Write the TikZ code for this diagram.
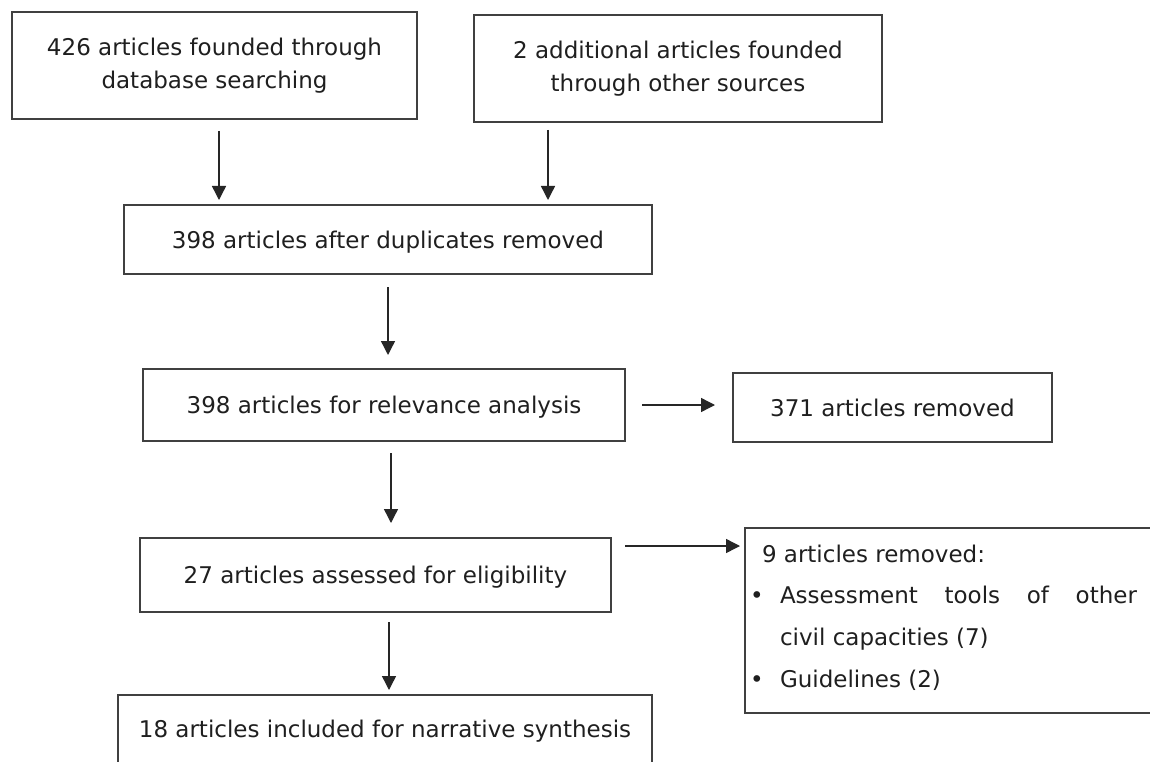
\documentclass[tikz,border=0pt]{standalone}
\usepackage{fontspec}
\setmainfont{DejaVu Sans}
\usetikzlibrary{calc,arrows.meta}
\begin{document}
\begin{tikzpicture}[x=1pt,y=-1pt,
  box/.style={draw=black!75,line width=1.5pt,inner sep=0pt,outer sep=0pt,
    anchor=north west,align=center,text=black!88,font=\fontsize{23pt}{33pt}\selectfont},
  oneline/.style={text height=17pt,text depth=0pt},
  arr/.style={draw=black!85,line width=1.4pt,-{Triangle[length=14pt,width=14pt]}},
  txt/.style={inner sep=0pt,outer sep=0pt,text=black!88,font=\fontsize{23pt}{33pt}\selectfont}]
\useasboundingbox (0,0) rectangle (1150,762);
\fill[white] (0,0) rectangle (1150,762);
\clip (0,0) rectangle (1150,762);

\node[box,minimum width=405pt,minimum height=107pt] (A) at (12,12)
  {426 articles founded through\\database searching};
\node[box,minimum width=408pt,minimum height=107pt] (B) at (474,15)
  {2 additional articles founded\\through other sources};
\node[box,oneline,minimum width=528pt,minimum height=69pt] (C) at (124,205)
  {398 articles after duplicates removed};
\node[box,oneline,minimum width=482pt,minimum height=72pt] (D) at (143,369)
  {398 articles for relevance analysis};
\node[box,oneline,minimum width=319pt,minimum height=69pt] (E) at (733,373)
  {371 articles removed};
\node[box,oneline,minimum width=471pt,minimum height=74pt] (F) at (140,538)
  {27 articles assessed for eligibility};
\node[box,minimum width=440pt,minimum height=185pt] (G) at (745,528) {};
\node[box,oneline,minimum width=534pt,minimum height=68pt] (H) at (118,695)
  {18 articles included for narrative synthesis};

% text of the list box
\node[txt,anchor=base west] (g1) at ($(G.north west)+(17pt,-34pt)$) {9 articles removed:};
\node[txt,anchor=base] (b1) at ($(G.north west)+(12pt,-75pt)$) {•};
\node[txt,anchor=base west] (g2) at ($(G.north west)+(35pt,-75pt)$)
  {\makebox[357pt][s]{Assessment tools of other}};
\node[txt,anchor=base west] (g3) at ($(G.north west)+(35pt,-117pt)$) {civil capacities (7)};
\node[txt,anchor=base] (b2) at ($(G.north west)+(12pt,-159pt)$) {•};
\node[txt,anchor=base west] (g4) at ($(G.north west)+(35pt,-159pt)$) {Guidelines (2)};

% connectors
\draw[arr] ($(A.south)+(4.5pt,-12pt)$) -- ($(A.south |- C.north)+(4.5pt,5pt)$);
\draw[arr] ($(B.south)+(-130pt,-8pt)$) -- ($(B.south |- C.north)+(-130pt,5pt)$);
\draw[arr] ($(C.south)+(0pt,-13pt)$) -- ($(C.south |- D.north)+(0pt,14pt)$);
\draw[arr] ($(D.east)+(17pt,0pt)$) -- ($(D.east -| E.west)+(-18pt,0pt)$);
\draw[arr] ($(D.south)+(7pt,-12pt)$) -- ($(D.south |- F.north)+(7pt,15pt)$);
\draw[arr] ($(F.north east)+(14pt,-8pt)$) -- ($(F.north east -| G.west)+(-5pt,-8pt)$);
\draw[arr] ($(F.south)+(13.5pt,-10pt)$) -- ($(F.south |- H.north)+(13.5pt,5pt)$);
\end{tikzpicture}
\end{document}
